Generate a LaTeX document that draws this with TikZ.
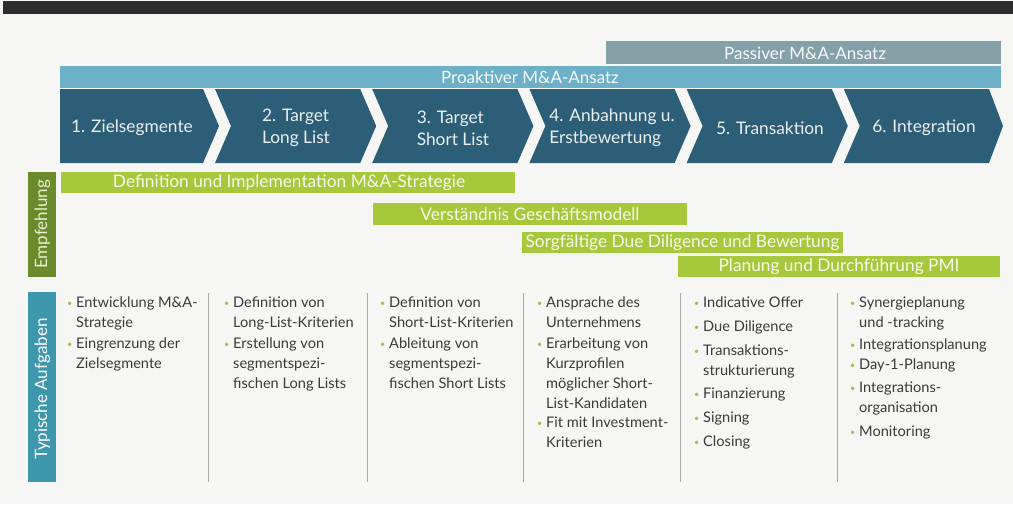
\documentclass[tikz,border=0pt]{standalone}
\usepackage{fontspec}
\setmainfont{Lato}
\definecolor{topbar}{HTML}{2E2E2E}
\definecolor{passiv}{HTML}{86A0A7}
\definecolor{proakt}{HTML}{6DB1C9}
\definecolor{chev}{HTML}{2D5E78}
\definecolor{lime}{HTML}{A8C83C}
\definecolor{olivebox}{HTML}{6A8A2C}
\definecolor{tealbox}{HTML}{3D97AD}
\definecolor{bulc}{HTML}{9CC44A}
\definecolor{txt}{HTML}{3A3A3A}
\definecolor{bg}{HTML}{F6F6F4}
\definecolor{sepc}{HTML}{A8A8A8}
\newcommand\bul{\makebox[9pt][l]{\textcolor{bulc}{\raisebox{1.2pt}{\fontsize{9}{9}\selectfont\textbullet}}}}
\tikzset{
  hdr/.style={font=\fontsize{17}{17}\selectfont, text=white!94!proakt, inner sep=0},
  chevtxt/.style={font=\fontsize{17.3}{22}\selectfont, text=white!90!chev, align=left, inner sep=0},
  gtxt/.style={font=\fontsize{17.3}{17.3}\selectfont, text=white!90!lime, inner sep=0},
  vlab/.style={rotate=90, font=\fontsize{17}{17}\selectfont, inner sep=0},
  coltext/.style={anchor=north west, inner sep=0, font=\fontsize{14.6}{20}\selectfont, text=txt},
  sepline/.style={draw=sepc, line width=0.9pt},
}
\begin{document}
\begin{tikzpicture}[x=1pt,y=-1pt]
\fill[bg] (0,0) rectangle (1013,504);
\useasboundingbox (0,0) rectangle (1013,504);
% top bar
\fill[topbar] (3,1) rectangle (1013,14);
% approach bars
\fill[passiv] (606,41) rectangle (1001,64);
\node[hdr] (passiv) at (805,53) {Passiver M\&A-Ansatz};
\fill[proakt] (60,66) rectangle (1001,88);
\node[hdr] (proakt) at (530,77.5) {Proaktiver M\&A-Ansatz};
% chevrons
\fill[chev] (60,89) -- (203,89) -- (219,126) -- (203,163) -- (60,163) -- cycle;
\fill[chev] (215,89) -- (360.2,89) -- (376.2,126) -- (360.2,163) -- (215,163) -- (231,126) -- cycle;
\fill[chev] (372.2,89) -- (517.4,89) -- (533.4,126) -- (517.4,163) -- (372.2,163) -- (388.2,126) -- cycle;
\fill[chev] (529.4,89) -- (674.6,89) -- (690.6,126) -- (674.6,163) -- (529.4,163) -- (545.4,126) -- cycle;
\fill[chev] (686.6,89) -- (831.8,89) -- (847.8,126) -- (831.8,163) -- (686.6,163) -- (702.6,126) -- cycle;
\fill[chev] (843.8,89) -- (989,89) -- (1003,126) -- (989,163) -- (843.8,163) -- (859.8,126) -- cycle;
\node[chevtxt] (s1) at (132,128) {1. Zielsegmente};
\node[chevtxt] (s2) at (296,128) {2. Target\\Long List};
\node[chevtxt] (s3) at (453,128) {3. Target\\Short List};
\node[chevtxt] (s4) at (612,128) {4. Anbahnung u.\\Erstbewertung};
\node[chevtxt] (s5) at (770,128) {5. Transaktion};
\node[chevtxt] (s6) at (924,128) {6. Integration};
% recommendation
\fill[olivebox] (28,172) rectangle (56,277);
\node[vlab, text=white!75!lime] (empf) at (42.5,224.5) {Empfehlung};
\fill[lime] (61,172) rectangle (515,193);
\node[gtxt] (g1) at (289,182.5) {Definition und Implementation M\&A-Strategie};
\fill[lime] (373,203) rectangle (687,225);
\node[gtxt] (g2) at (530,214) {Verständnis Geschäftsmodell};
\fill[lime] (522,232) rectangle (843,253);
\node[gtxt] (g3) at (682.5,242.5) {Sorgfältige Due Diligence und Bewertung};
\fill[lime] (678,256) rectangle (1000,277);
\node[gtxt] (g4) at (839,266.5) {Planung und Durchführung PMI};
% tasks
\fill[tealbox] (28,292) rectangle (56,482);
\node[vlab, text=white] (typ) at (42.5,389) {Typische Aufgaben};
\foreach \x in {208,367,523,680,837} \draw[sepline] (\x,293) -- (\x,482);
\node[coltext] (c1) at (67,293) {\begin{tabular}{@{}l@{}l@{}}
\bul & Entwicklung M\&A-\\ & Strategie\\[1pt]
\bul & Eingrenzung der\\ & Zielsegmente\end{tabular}};
\node[coltext] (c2) at (224,293) {\begin{tabular}{@{}l@{}l@{}}
\bul & Definition von\\ & Long-List-Kriterien\\[1pt]
\bul & Erstellung von\\ & segmentspezi-\\ & fischen Long Lists\end{tabular}};
\node[coltext] (c3) at (380,293) {\begin{tabular}{@{}l@{}l@{}}
\bul & Definition von\\ & Short-List-Kriterien\\[1pt]
\bul & Ableitung von\\ & segmentspezi-\\ & fischen Short Lists\end{tabular}};
\node[coltext] (c4) at (537,293) {\begin{tabular}{@{}l@{}l@{}}
\bul & Ansprache des\\ & Unternehmens\\[1pt]
\bul & Erarbeitung von\\ & Kurzprofilen\\ & möglicher Short-\\ & List-Kandidaten\\[-1pt]
\bul & Fit mit Investment-\\ & Kriterien\end{tabular}};
\node[coltext] (c5) at (694,293) {\begin{tabular}{@{}l@{}l@{}}
\bul & Indicative Offer\\[4pt]
\bul & Due Diligence\\[4pt]
\bul & Transaktions-\\ & strukturierung\\[3pt]
\bul & Finanzierung\\[4pt]
\bul & Signing\\[4pt]
\bul & Closing\end{tabular}};
\node[coltext] (c6) at (850,293) {\begin{tabular}{@{}l@{}l@{}}
\bul & Synergieplanung\\ & und -tracking\\[2pt]
\bul & Integrationsplanung\\[0pt]
\bul & Day-1-Planung\\[3pt]
\bul & Integrations-\\ & organisation\\[4pt]
\bul & Monitoring\end{tabular}};
\end{tikzpicture}
\end{document}
